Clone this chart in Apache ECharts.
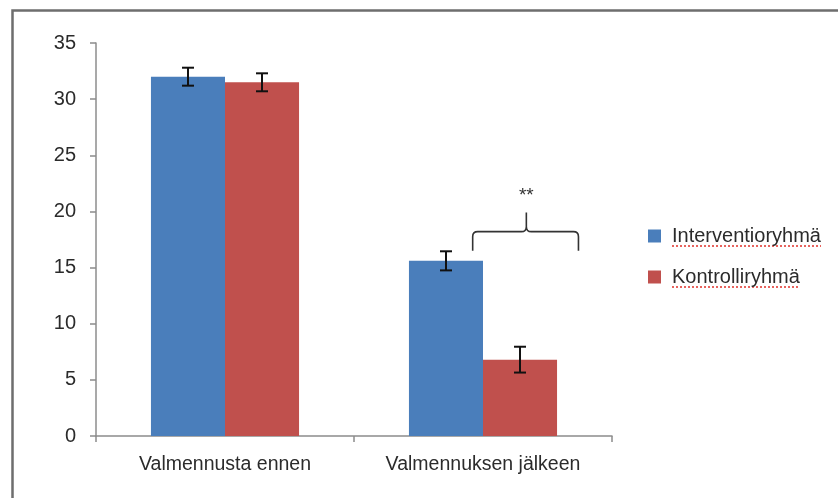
<!DOCTYPE html>
<html><head><meta charset="utf-8">
<script src="https://cdn.jsdelivr.net/npm/echarts@6/dist/echarts.min.js"></script>
<style>html,body{margin:0;padding:0;background:#fff}#c{width:838px;height:498px}</style>
</head><body><div id="c"></div>
<script>
const categories = ['Valmennusta ennen', 'Valmennuksen jälkeen'];
const seriesNames = ['Interventioryhmä', 'Kontrolliryhmä'];
const interventio = [32.0, 15.6];
const interventioErr = [0.8, 0.85];
const kontrolli = [31.5, 6.8];
const kontrolliErr = [0.8, 1.15];
// significance bracket on category 2: [category, baseline y, bracket y, peak y, label y]
const bracket = [[1, 16.5, 18.2, 19.9, 21.4]];
const yTicks = [0, 5, 10, 15, 20, 25, 30, 35];

const BAR_FRAC = 0.287;
const font = 'Liberation Sans, Arial, sans-serif';
const txt = '#2b2b2b';
const FS = 20;

function errSeries(vals, errs, side) {
  return {
    type: 'custom',
    z: 10,
    silent: true,
    data: vals.map((v, i) => [i, v - errs[i], v + errs[i]]),
    renderItem: function (params, api) {
      const band = api.size([1, 0])[0];
      const off = side * band * BAR_FRAC / 2;
      const lo = api.coord([api.value(0), api.value(1)]);
      const hi = api.coord([api.value(0), api.value(2)]);
      const x = lo[0] + off;
      const cap = 6;
      const st = { stroke: '#111', lineWidth: 2 };
      return { type: 'group', children: [
        { type: 'line', shape: { x1: x, y1: lo[1], x2: x, y2: hi[1] }, style: st },
        { type: 'line', shape: { x1: x - cap, y1: lo[1], x2: x + cap, y2: lo[1] }, style: st },
        { type: 'line', shape: { x1: x - cap, y1: hi[1], x2: x + cap, y2: hi[1] }, style: st }
      ]};
    }
  };
}

const chart = echarts.init(document.getElementById('c'));
chart.setOption({
  animation: false,
  backgroundColor: '#fff',
  graphic: [
    { type: 'rect', left: 10, top: 8, shape: { width: 900, height: 600 },
      style: { fill: 'none', stroke: '#6e6e6e', lineWidth: 2.5 }, silent: true },
    { type: 'line', shape: { x1: 672, y1: 246, x2: 821, y2: 246 },
      style: { stroke: '#e0302a', lineWidth: 1.5, lineDash: [2, 2] }, silent: true },
    { type: 'line', shape: { x1: 672, y1: 287, x2: 799, y2: 287 },
      style: { stroke: '#e0302a', lineWidth: 1.5, lineDash: [2, 2] }, silent: true }
  ],
  grid: { left: 96, right: 226, top: 43, bottom: 62 },
  legend: {
    orient: 'vertical', left: 648, top: 226, itemGap: 21, padding: 0,
    itemWidth: 13, itemHeight: 13, icon: 'rect',
    data: seriesNames,
    textStyle: { fontFamily: font, fontSize: FS, color: txt, padding: [0, 0, 0, 6] }
  },
  xAxis: {
    type: 'category', data: categories,
    axisLine: { lineStyle: { color: '#8c8c8c', width: 1.5 } },
    axisTick: { show: true, interval: 0, length: 6, lineStyle: { color: '#8c8c8c', width: 1.5 } },
    axisLabel: { interval: 0, hideOverlap: false, fontFamily: font, fontSize: 19.5, color: txt, margin: 19 }
  },
  yAxis: {
    type: 'value', min: 0, max: 35, interval: 5,
    axisLine: { show: true, lineStyle: { color: '#8c8c8c', width: 1.5 } },
    axisTick: { show: true, length: 6, lineStyle: { color: '#8c8c8c', width: 1.5 } },
    splitLine: { show: false },
    axisLabel: { fontFamily: font, fontSize: FS, color: txt, margin: 20,
      formatter: v => yTicks.includes(v) ? String(v) : '' }
  },
  series: [
    { name: seriesNames[0], type: 'bar', data: interventio, barWidth: (BAR_FRAC * 100) + '%', barGap: '0%',
      itemStyle: { color: '#4a7ebb' } },
    { name: seriesNames[1], type: 'bar', data: kontrolli, barWidth: (BAR_FRAC * 100) + '%', barGap: '0%',
      itemStyle: { color: '#c0504d' } },
    errSeries(interventio, interventioErr, -1),
    errSeries(kontrolli, kontrolliErr, 1),
    {
      type: 'custom', z: 10, silent: true, data: bracket,
      renderItem: function (params, api) {
        const band = api.size([1, 0])[0];
        const c = api.coord([api.value(0), api.value(2)]);
        const base = api.coord([api.value(0), api.value(1)])[1];
        const peak = api.coord([api.value(0), api.value(3)])[1];
        const lab = api.coord([api.value(0), api.value(4)])[1];
        const xl = c[0] - band * 0.04, xr = c[0] + band * 0.37, xm = c[0] + band * 0.168;
        const y = c[1], r = 5;
        const st = { stroke: '#333', lineWidth: 1.6, fill: 'none' };
        const d = `M${xl},${base} L${xl},${y + r} Q${xl},${y} ${xl + r},${y} L${xm - r},${y} Q${xm},${y} ${xm},${y - r} L${xm},${peak} ` +
                  `M${xm},${y - r} Q${xm},${y} ${xm + r},${y} L${xr - r},${y} Q${xr},${y} ${xr},${y + r} L${xr},${base}`;
        return { type: 'group', children: [
          { type: 'path', shape: { pathData: d }, style: st },
          { type: 'text', x: xm, y: lab, style: { text: '**', fontFamily: font, fontSize: 19, fill: '#333', align: 'center', verticalAlign: 'middle' } }
        ]};
      }
    }
  ]
});
</script></body></html>
